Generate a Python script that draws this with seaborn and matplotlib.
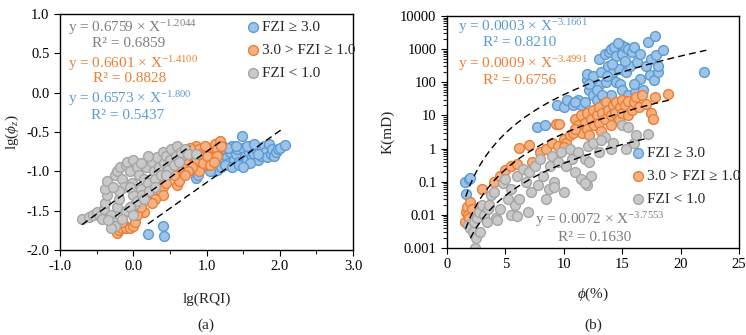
import seaborn as sns
import matplotlib.pyplot as plt
import matplotlib.ticker as mticker
import pandas as pd
import numpy as np

# ---- panel (a): lg(RQI) vs lg(phi_z)
a_blue_x = [0.2, 0.4, 0.42, 0.85, 0.88, 1.1, 1.12, 1.15, 1.18, 1.2, 1.22, 1.25, 1.28, 1.3, 1.32, 1.35, 1.38, 1.4,
            1.42, 1.45, 1.48, 1.5, 1.52, 1.55, 1.58, 1.6, 1.62, 1.65, 1.68, 1.7, 1.72, 1.75, 1.78, 1.8, 1.82, 1.85,
            1.88, 1.9, 1.92, 1.95, 1.98, 2.0, 2.07, 1.1, 1.15, 1.05, 1.2, 1.25, 1.35, 1.45, 1.3, 1.4, 1.6, 1.5,
            1.7, 1.15, 1.2, 1.55, 1.65, 1.0, 0.98, 1.08]
a_blue_y = [-1.8, -1.7, -1.82, -1.08, -1.05, -0.95, -0.9, -0.85, -0.8, -0.78, -0.88, -0.72, -0.82, -0.9, -0.76,
            -0.68, -0.85, -0.78, -0.72, -0.88, -0.55, -0.7, -0.8, -0.85, -0.75, -0.68, -0.82, -0.78, -0.72, -0.85,
            -0.7, -0.8, -0.68, -0.76, -0.82, -0.65, -0.78, -0.72, -0.8, -0.76, -0.72, -0.7, -0.67, -1.0, -0.98,
            -1.0, -0.95, -0.92, -0.95, -0.92, -0.7, -0.68, -0.9, -0.95, -0.78, -0.7, -0.65, -0.68, -0.65, -0.92,
            -0.85, -0.82]
a_orange_x = [-0.22, -0.2, -0.15, -0.12, -0.1, -0.05, 0.0, 0.02, -0.15, 0.15, 0.2, 0.25, 0.3, 0.35, 0.4, 0.45,
              0.5, 0.55, 0.6, 0.62, 0.65, 0.7, 0.75, 0.8, 0.85, 0.9, 0.92, 0.9, 0.95, 1.0, 1.02, 1.05, 1.08, 1.1,
              1.12, 1.15, 1.18, 1.2, 0.85, 0.8, 0.75, 0.7, 0.95, 1.0, 0.88, 1.15, 0.78, 0.98, 0.65, 0.55, 0.45,
              0.4, 0.3, 0.25, 0.05, 0.1, 1.05, 1.1, 0.6, 0.72]
a_orange_y = [-1.78, -1.75, -1.72, -1.68, -1.72, -1.72, -1.7, -1.65, -1.65, -1.52, -1.35, -1.28, -1.18, -1.15,
              -1.2, -1.05, -1.0, -0.98, -1.18, -1.12, -0.95, -0.9, -0.85, -0.8, -0.68, -0.72, -0.95, -1.0, -0.78,
              -0.7, -0.85, -0.75, -0.8, -0.7, -0.65, -0.72, -0.62, -0.68, -0.85, -0.95, -1.0, -1.05, -0.9, -0.8,
              -0.78, -0.8, -0.7, -0.68, -0.82, -1.05, -1.15, -1.3, -1.35, -1.4, -1.55, -1.45, -0.92, -0.88, -0.88,
              -0.76]
a_gray_x = [-0.7, -0.6, -0.55, -0.5, -0.45, -0.42, -0.4, -0.38, -0.36, -0.38, -0.36, -0.3, -0.28, -0.25, -0.3,
            -0.22, -0.2, -0.25, -0.22, -0.18, -0.15, -0.12, -0.1, -0.08, -0.05, -0.02, 0.0, 0.02, 0.05, 0.0, 0.05,
            0.08, 0.1, 0.12, 0.15, 0.18, 0.2, 0.22, 0.25, 0.28, 0.3, 0.32, 0.35, 0.38, 0.4, 0.42, 0.45, 0.48, 0.5,
            0.52, 0.55, 0.58, 0.6, 0.62, 0.65, 0.7, 0.75, -0.1, -0.15, -0.05, 0.0, -0.35, -0.2, 0.1, -0.28, 0.15,
            0.3, 0.45, 0.2, -0.05, 0.85]
a_gray_y = [-1.6, -1.58, -1.55, -1.52, -1.57, -1.6, -1.48, -1.4, -1.3, -1.22, -1.12, -1.55, -1.65, -1.7, -1.72,
            -1.45, -1.35, -1.05, -1.0, -0.95, -1.1, -1.2, -0.92, -0.88, -1.0, -1.15, -1.3, -1.42, -1.38, -0.85,
            -0.95, -1.05, -1.22, -1.3, -1.1, -0.95, -1.15, -1.25, -0.88, -1.0, -1.1, -0.82, -0.95, -1.05, -0.75,
            -0.9, -0.8, -0.98, -0.85, -0.72, -0.92, -0.8, -0.68, -0.88, -0.76, -0.72, -0.78, -1.5, -1.6, -1.45,
            -1.55, -1.62, -1.25, -0.9, -1.2, -1.35, -1.2, -1.05, -0.8, -1.2, -0.78]

# linear fits in panel (a): slope, intercept, x-range
a_fits = {'gray': (0.6759, -1.2044, -0.7, 0.78),
          'orange': (0.6601, -1.41, -0.25, 1.2),
          'blue': (0.6573, -1.80, 0.2, 2.05)}

# ---- panel (b): phi(%) vs K(mD)
b_blue_x = [1.5, 1.6, 1.9, 2.0, 7.7, 8.4, 9.4, 10, 10.3, 10.8, 11.2, 11.5, 11.8, 12, 12, 12.2, 12.5, 12.5, 12.8,
            13, 13, 13.2, 13.4, 13.5, 13.6, 13.8, 13.9, 14, 14, 14.2, 14.3, 14.5, 14.5, 14.7, 14.8, 14.9, 15, 15,
            15.2, 15.3, 15.5, 15.5, 15.7, 15.8, 16, 16.1, 16.3, 16.5, 16.5, 16.8, 17, 17.2, 17.4, 17.5, 17.8,
            17.9, 17.7, 18.1, 18.1, 18.5, 22, 12.2, 13.7, 14.1, 15.2, 12.8, 11.0, 14.6, 16.0, 13.3]
b_blue_y = [0.1, 0.042, 0.12, 0.13, 4.5, 5.2, 20, 18, 30, 20, 30, 20, 25, 120, 180, 60, 40, 150, 30, 80, 500, 200,
            30, 700, 100, 300, 800, 40, 1000, 200, 1200, 100, 600, 250, 90, 1300, 700, 60, 1200, 200, 1000, 40,
            300, 800, 1200, 50, 400, 700, 130, 60, 300, 1600, 170, 500, 2500, 650, 120, 200, 300, 950, 200, 90,
            150, 350, 450, 60, 25, 1500, 90, 40]
b_orange_x = [1.5, 1.6, 1.7, 1.8, 1.9, 2.0, 2.1, 3.0, 4.0, 4.5, 5.0, 5.5, 6.0, 6.2, 7.0, 7.3, 8.0, 8.5, 9.0, 9.3,
              9.6, 9.5, 10, 10.2, 10.5, 10.8, 11, 11.2, 11.5, 11.6, 11.8, 12, 12, 12.3, 12.5, 12.6, 12.8, 13, 13,
              13.3, 13.5, 13.6, 13.8, 14, 14, 14.2, 14.4, 14.5, 14.7, 14.8, 15, 15, 15.2, 15.5, 15.5, 15.8, 16,
              16.2, 16.4, 16.7, 17, 17.5, 17.6, 17.8, 18.9, 11.0, 12.2, 13.2, 10.0]
b_orange_y = [0.006, 0.012, 0.017, 0.01, 0.008, 0.025, 0.015, 0.06, 0.1, 0.15, 0.22, 0.3, 0.35, 1.05, 1.3, 0.4,
              0.8, 1.0, 1.5, 5.5, 5.5, 1.2, 2, 1.5, 2.5, 3, 8, 5, 10, 3, 6, 4, 12, 8, 15, 5, 10, 6, 18, 12, 8, 25,
              15, 10, 5, 20, 12, 25, 8, 18, 30, 12, 20, 10, 28, 15, 25, 35, 18, 40, 22, 12, 8, 35, 45, 4, 2.5, 3.5,
              1.1]
b_gray_x = [1.8, 2.0, 2.2, 2.4, 2.5, 2.3, 2.6, 2.8, 2.7, 3.0, 3.2, 3.4, 3.5, 3.8, 4.0, 4.2, 4.3, 4.5, 4.8, 5.0,
            5.2, 5.5, 5.8, 6.0, 6.2, 6.5, 6.8, 6.9, 7.0, 7.2, 7.5, 7.8, 8.0, 8.2, 8.5, 8.7, 8.8, 9.0, 9.2, 9.5,
            9.8, 10, 10.2, 10.5, 10.7, 11, 11.2, 11.5, 11.8, 12, 12.1, 12.3, 12.5, 13, 13.5, 14, 14.2, 15, 15.3,
            15.5, 16, 16.2, 17.2, 11.8, 12.2, 13.2, 9.2, 6.0, 3.6, 5.5]
b_gray_y = [0.005, 0.004, 0.003, 0.001, 0.002, 0.006, 0.008, 0.003, 0.012, 0.02, 0.01, 0.006, 0.015, 0.04, 0.05,
            0.008, 0.007, 0.015, 0.09, 0.12, 0.03, 0.01, 0.02, 0.15, 0.03, 0.25, 0.1, 0.012, 0.2, 0.05, 0.3, 0.08,
            0.5, 0.15, 0.03, 0.06, 0.3, 0.6, 0.1, 0.4, 0.8, 0.05, 0.3, 1.0, 0.5, 0.2, 0.8, 0.12, 0.5, 0.08, 1.2,
            0.15, 1.5, 0.8, 2.2, 1.0, 1.5, 5, 1.0, 4.5, 1.5, 2.5, 2.8, 0.09, 0.4, 1.8, 0.07, 0.009, 0.02, 0.06]

# power fits in panel (b): K = c * phi^p, x-range
b_fits = {'blue': (0.0057, 3.87, 1.6, 22.2),
          'orange': (0.0007, 3.61, 1.6, 19.0),
          'gray': (0.00021, 3.23, 2.0, 17.2)}

labels = {'blue': 'FZI ≥ 3.0', 'orange': '3.0 > FZI ≥ 1.0', 'gray': 'FZI < 1.0'}
face = {'blue': '#9DC3E6', 'orange': '#F4B183', 'gray': '#C9C9C9'}
edge = {'blue': '#5B9BD5', 'orange': '#ED7D31', 'gray': '#A5A5A5'}
txt = {'blue': '#5B9BD5', 'orange': '#ED7D31', 'gray': '#7F7F7F'}

sns.set_style('ticks')
plt.rcParams['font.family'] = ['Liberation Serif', 'DejaVu Serif']
plt.rcParams['mathtext.fontset'] = 'custom'
plt.rcParams['mathtext.rm'] = 'Liberation Serif'
plt.rcParams['mathtext.it'] = 'Liberation Serif:italic'
plt.rcParams['font.size'] = 10.5

fig = plt.figure(figsize=(7.46, 3.35), dpi=100)
ax1 = fig.add_axes([60/746, 1-250/335, 293/746, 236/335])
ax2 = fig.add_axes([447/746, 1-248/335, 292/746, 232/335])

dfa = pd.concat([
    pd.DataFrame({'x': a_blue_x, 'y': a_blue_y, 'g': 'blue'}),
    pd.DataFrame({'x': a_orange_x, 'y': a_orange_y, 'g': 'orange'}),
    pd.DataFrame({'x': a_gray_x, 'y': a_gray_y, 'g': 'gray'})])
dfb = pd.concat([
    pd.DataFrame({'x': b_blue_x, 'y': b_blue_y, 'g': 'blue'}),
    pd.DataFrame({'x': b_orange_x, 'y': b_orange_y, 'g': 'orange'}),
    pd.DataFrame({'x': b_gray_x, 'y': b_gray_y, 'g': 'gray'})])

for ax, df in [(ax1, dfa), (ax2, dfb)]:
    for g in ['blue', 'orange', 'gray']:
        sub = df[df.g == g]
        sns.scatterplot(data=sub, x='x', y='y', ax=ax, color=face[g], edgecolor=edge[g],
                        linewidth=1.0, s=50, label=labels[g], zorder=2)

# fit lines
for g, (k, b, x0, x1) in a_fits.items():
    xs = np.array([x0, x1])
    ax1.plot(xs, k*xs + b, color='black', ls=(0, (5, 3)), lw=1.0, zorder=3)
for g, (c, p, x0, x1) in b_fits.items():
    xs = np.linspace(x0, x1, 100)
    ax2.plot(xs, c*xs**p, color='black', ls=(0, (5, 3)), lw=1.0, zorder=3)

# axes (a)
ax1.set_xlim(-1, 3)
ax1.set_ylim(-2, 1)
ax1.xaxis.set_major_locator(mticker.MultipleLocator(1))
ax1.xaxis.set_minor_locator(mticker.MultipleLocator(0.5))
ax1.yaxis.set_major_locator(mticker.MultipleLocator(0.5))
ax1.xaxis.set_major_formatter(mticker.FormatStrFormatter('%.1f'))
ax1.yaxis.set_major_formatter(mticker.FormatStrFormatter('%.1f'))
ax1.set_xlabel('lg(RQI)', fontsize=11, labelpad=14)
ax1.set_ylabel(r'lg($\phi_z$)', fontsize=11, labelpad=4)

# axes (b)
ax2.set_yscale('log')
ax2.set_xlim(0, 25)
ax2.set_ylim(0.001, 10000)
ax2.xaxis.set_major_locator(mticker.MultipleLocator(5))
ax2.yaxis.set_major_locator(mticker.LogLocator(base=10, numticks=10))
ax2.yaxis.set_minor_locator(mticker.LogLocator(base=10, subs=np.arange(2, 10), numticks=20))
ax2.yaxis.set_major_formatter(mticker.FuncFormatter(lambda v, _: f'{v:g}'))
ax2.yaxis.set_minor_formatter(mticker.NullFormatter())
ax2.set_xlabel(r'$\phi$(%)', fontsize=11, labelpad=10)
ax2.set_ylabel('K(mD)', fontsize=11, labelpad=4)

for ax in (ax1, ax2):
    for sp in ax.spines.values():
        sp.set_visible(True)
        sp.set_color('black')
        sp.set_linewidth(1.0)
    ax.tick_params(which='major', direction='out', length=4, width=0.8, labelsize=10.5, colors='black')
    ax.tick_params(which='minor', direction='out', length=3, width=0.8)

# legends
ax1.legend(loc='upper left', bbox_to_anchor=(0.59, 1.025), frameon=False, handletextpad=0.1,
           handlelength=1.0, labelspacing=0.6, borderpad=0.3, fontsize=11, markerscale=1.0)
ax2.legend(loc='upper left', bbox_to_anchor=(0.587, 0.49), frameon=False, handletextpad=0.1,
           handlelength=1.0, labelspacing=0.6, borderpad=0.3, fontsize=11, markerscale=1.0)

# equations (a)
ax1.text(0.027, 0.941, r'y = 0.6759 × X$^{-1.2044}$', color=txt['gray'], transform=ax1.transAxes, va='center', fontsize=11)
ax1.text(0.109, 0.877, 'R² = 0.6859', color=txt['gray'], transform=ax1.transAxes, va='center', fontsize=11)
ax1.text(0.027, 0.792, r'y = 0.6601 × X$^{-1.4100}$', color=txt['orange'], transform=ax1.transAxes, va='center', fontsize=11)
ax1.text(0.113, 0.725, 'R² = 0.8828', color=txt['orange'], transform=ax1.transAxes, va='center', fontsize=11)
ax1.text(0.027, 0.640, r'y = 0.6573 × X$^{-1.800}$', color=txt['blue'], transform=ax1.transAxes, va='center', fontsize=11)
ax1.text(0.106, 0.572, 'R² = 0.5437', color=txt['blue'], transform=ax1.transAxes, va='center', fontsize=11)

# equations (b)
ax2.text(0.038, 0.953, r'y = 0.0003 × X$^{-3.1661}$', color=txt['blue'], transform=ax2.transAxes, va='center', fontsize=11)
ax2.text(0.123, 0.884, 'R² = 0.8210', color=txt['blue'], transform=ax2.transAxes, va='center', fontsize=11)
ax2.text(0.038, 0.797, r'y = 0.0009 × X$^{-3.4991}$', color=txt['orange'], transform=ax2.transAxes, va='center', fontsize=11)
ax2.text(0.123, 0.724, 'R² = 0.6756', color=txt['orange'], transform=ax2.transAxes, va='center', fontsize=11)
ax2.text(0.301, 0.121, r'y = 0.0072 × X$^{-3.7553}$', color=txt['gray'], transform=ax2.transAxes, va='center', fontsize=11)
ax2.text(0.380, 0.047, 'R² = 0.1630', color=txt['gray'], transform=ax2.transAxes, va='center', fontsize=11)

fig.text(206/746, 1-325/335, '(a)', ha='center', va='center', fontsize=11)
fig.text(593/746, 1-325/335, '(b)', ha='center', va='center', fontsize=11)

fig.savefig('out.png', dpi=100)
